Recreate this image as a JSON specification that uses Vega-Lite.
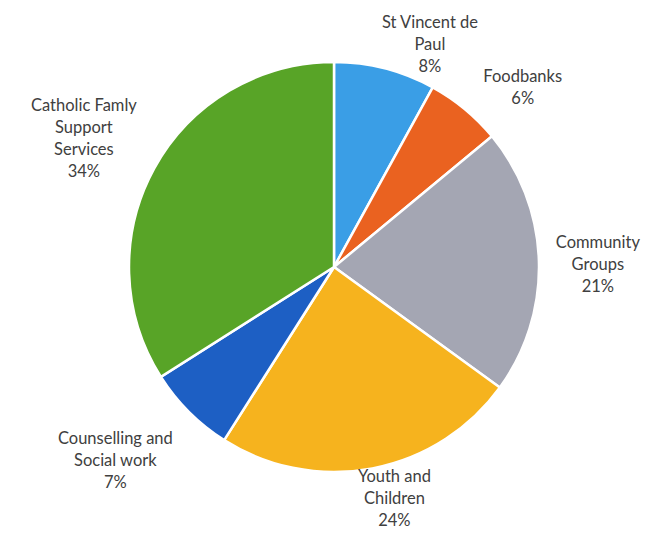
{
  "$schema": "https://vega.github.io/schema/vega-lite/v6.json",
  "autosize": "none",
  "padding": 0,
  "width": 668,
  "height": 534,
  "background": "white",
  "config": {"view": {"stroke": null}, "text": {"lineBreak": "\n", "font": "Lato", "fontSize": 16.5, "lineHeight": 22, "color": "#404040", "align": "center", "baseline": "middle"}},
  "data": {
    "values": [
      {"k": 1, "name": "St Vincent de Paul", "label": "St Vincent de\nPaul\n8%", "value": 8},
      {"k": 2, "name": "Foodbanks", "label": "Foodbanks\n6%", "value": 6},
      {"k": 3, "name": "Community Groups", "label": "Community\nGroups\n21%", "value": 21},
      {"k": 4, "name": "Youth and Children", "label": "Youth and\nChildren\n24%", "value": 24},
      {"k": 5, "name": "Counselling and Social work", "label": "Counselling and\nSocial work\n7%", "value": 7},
      {"k": 6, "name": "Catholic Famly Support Services", "label": "Catholic Famly\nSupport\nServices\n34%", "value": 34}
    ]
  },
  "transform": [
    {"stack": "value", "groupby": [], "sort": [{"field": "k", "order": "ascending"}], "as": ["v0", "v1"]},
    {"calculate": "(datum.v0 + datum.v1) / 2", "as": "mid"}
  ],
  "encoding": {
    "theta": {"field": "mid", "type": "quantitative", "scale": {"domain": [0, 100]}},
    "text": {"field": "label"}
  },
  "layer": [
    {
      "mark": {"type": "arc", "outerRadius": 205, "stroke": "white", "strokeWidth": 2.5},
      "encoding": {
        "theta": {"field": "v0", "type": "quantitative", "scale": {"domain": [0, 100]}},
        "theta2": {"field": "v1"},
        "text": null,
        "color": {
          "field": "name",
          "type": "nominal",
          "legend": null,
          "scale": {
            "domain": ["St Vincent de Paul", "Foodbanks", "Community Groups", "Youth and Children", "Counselling and Social work", "Catholic Famly Support Services"],
            "range": ["#3a9ee6", "#ea6220", "#a4a6b3", "#f6b31e", "#1d5fc4", "#58a427"]
          }
        }
      }
    },
    {"transform": [{"filter": "datum.k == 1"}], "mark": {"type": "text", "radius": 241, "dx": 36, "dy": -11}},
    {"transform": [{"filter": "datum.k == 2"}], "mark": {"type": "text", "radius": 260, "dx": 23, "dy": 10}},
    {"transform": [{"filter": "datum.k == 3"}], "mark": {"type": "text", "radius": 264, "dx": 0, "dy": -16}},
    {"transform": [{"filter": "datum.k == 4"}], "mark": {"type": "text", "radius": 237, "dx": 16, "dy": -23}},
    {"transform": [{"filter": "datum.k == 5"}], "mark": {"type": "text", "radius": 288, "dx": -15, "dy": -32}},
    {"transform": [{"filter": "datum.k == 6"}], "mark": {"type": "text", "radius": 282, "dx": -3, "dy": -25}}
  ]
}
